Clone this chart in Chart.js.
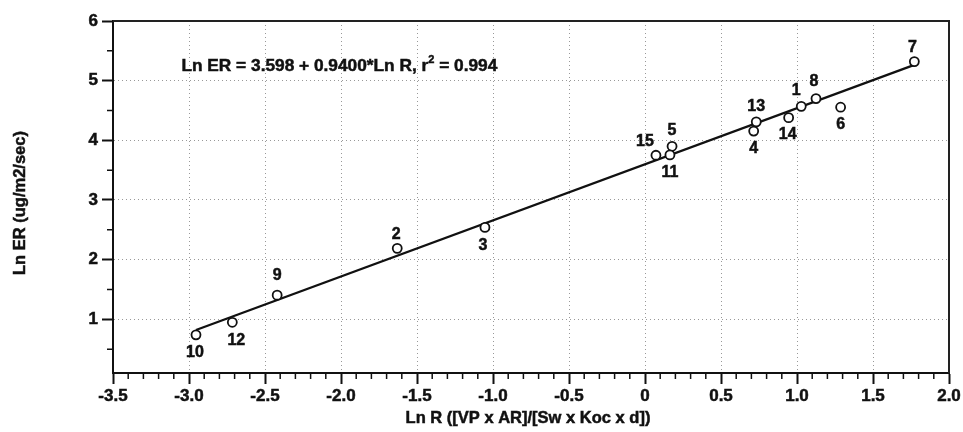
<!DOCTYPE html>
<html>
<head>
<meta charset="utf-8">
<script src="https://cdn.jsdelivr.net/npm/chart.js@4.4.1/dist/chart.umd.min.js"></script>
<style>
  html, body { margin: 0; padding: 0; background: #fff; }
  #wrap { width: 963px; height: 432px; }
</style>
</head>
<body>
<div id="wrap"><canvas id="erChart"></canvas></div>
<script>
// Ln ER vs Ln R, compounds numbered 1..15
const POINT_IDS = [1, 2, 3, 4, 5, 6, 7, 8, 9, 10, 11, 12, 13, 14, 15];
const LN_R  = [1.028, -1.63, -1.053, 0.715, 0.178, 1.287, 1.772, 1.125, -2.42, -2.954, 0.164, -2.715, 0.732, 0.945, 0.072];
const LN_ER = [4.57, 2.19, 2.54, 4.155, 3.90, 4.555, 5.32, 4.70, 1.405, 0.74, 3.755, 0.95, 4.31, 4.38, 3.75];

// fitted line as printed on the chart
const INTERCEPT = 3.598;
const SLOPE = 0.9400;
const R2 = 0.994;

const X_TICKS = [-3.5, -3.0, -2.5, -2.0, -1.5, -1.0, -0.5, 0, 0.5, 1.0, 1.5, 2.0];
const Y_TICKS = [1, 2, 3, 4, 5, 6];
const X_TITLE = 'Ln R ([VP x AR]/[Sw x Koc x d])';
const Y_TITLE = 'Ln ER (ug/m2/sec)';

const FONT = '"Liberation Sans", Arial, Helvetica, sans-serif';

const pts = LN_R.map((x, i) => ({ x: x, y: LN_ER[i] }));
const xLo = Math.min(...LN_R), xHi = Math.max(...LN_R);
const fitLine = [xLo, xHi].map(x => ({ x: x, y: INTERCEPT + SLOPE * x }));

// where each number sits relative to its circle (px)
const labelOffset = {
    1: [-5, -16], 2: [-1, -14], 3: [-2, 18], 4: [0, 18], 5: [0, -16],
    6: [0, 17], 7: [-2, -14], 8: [-2, -17], 9: [0, -20], 10: [-1, 18],
    11: [0, 18], 12: [4, 18], 13: [0, -15], 14: [-1, 17], 15: [-11, -14]
};

// fill + thin stroke, the printed labels are quite heavy
function heavyText(ctx, txt, x, y) {
    ctx.fillText(txt, x, y);
    ctx.strokeText(txt, x, y);
}

const decorPlugin = {
    id: 'decor',
    afterDraw(chart) {
        const ctx = chart.ctx;
        const xs = chart.scales.x, ys = chart.scales.y;
        const area = chart.chartArea;
        ctx.save();

        // top / right frame
        ctx.strokeStyle = '#222';
        ctx.lineWidth = 2;
        ctx.beginPath();
        ctx.moveTo(area.left, area.top);
        ctx.lineTo(area.right, area.top);
        ctx.lineTo(area.right, area.bottom);
        ctx.stroke();

        // minor ticks
        ctx.lineWidth = 1.5;
        ctx.strokeStyle = '#111';
        ctx.beginPath();
        for (let k = -35; k <= 20; k++) {
            if (k % 5 === 0) continue;
            const px = xs.getPixelForValue(k / 10);
            ctx.moveTo(px, area.bottom);
            ctx.lineTo(px, area.bottom + 6);
        }
        for (let v = 0.5; v < 6; v += 1) {
            const py = ys.getPixelForValue(v);
            ctx.moveTo(area.left, py);
            ctx.lineTo(area.left - 6, py);
        }
        ctx.stroke();

        ctx.fillStyle = '#111';
        ctx.strokeStyle = '#111';
        ctx.lineWidth = 0.5;
        ctx.textAlign = 'center';
        ctx.textBaseline = 'middle';

        // axis titles
        ctx.font = 'bold 16.5px ' + FONT;
        heavyText(ctx, X_TITLE, (area.left + area.right) / 2 - 3, 418);
        ctx.save();
        ctx.translate(20, (area.top + area.bottom) / 2 + 6);
        ctx.rotate(-Math.PI / 2);
        heavyText(ctx, Y_TITLE, 0, 0);
        ctx.restore();

        // point numbers
        ctx.font = 'bold 16px ' + FONT;
        POINT_IDS.forEach((id, i) => {
            const off = labelOffset[id];
            const px = xs.getPixelForValue(LN_R[i]) + off[0];
            const py = ys.getPixelForValue(LN_ER[i]) + off[1];
            heavyText(ctx, String(id), px, py);
        });

        // equation
        let ex = xs.getPixelForValue(-3.05);
        const ey = ys.getPixelForValue(5.25);
        ctx.textAlign = 'left';
        const part1 = 'Ln ER = ' + INTERCEPT.toFixed(3) + ' + ' + SLOPE.toFixed(4) + '*Ln R, r';
        const part2 = ' = ' + R2.toFixed(3);
        ctx.font = 'bold 17.3px ' + FONT;
        heavyText(ctx, part1, ex, ey);
        ex += ctx.measureText(part1).width;
        ctx.font = 'bold 11px ' + FONT;
        heavyText(ctx, '2', ex, ey - 6);
        ex += ctx.measureText('2').width;
        ctx.font = 'bold 17.3px ' + FONT;
        heavyText(ctx, part2, ex, ey);

        ctx.restore();
    }
};

new Chart(document.getElementById('erChart'), {
    type: 'scatter',
    data: {
        datasets: [
            {
                label: 'fit',
                type: 'line',
                data: fitLine,
                borderColor: '#111',
                borderWidth: 2.3,
                pointRadius: 0,
                fill: false,
                order: 2
            },
            {
                label: 'compounds',
                data: pts,
                pointRadius: 4.5,
                pointBorderWidth: 1.8,
                pointBorderColor: '#111',
                pointBackgroundColor: '#fff',
                order: 1
            }
        ]
    },
    options: {
        responsive: true,
        maintainAspectRatio: false,
        animation: false,
        events: [],
        layout: { padding: { top: 21, right: 14, left: 0, bottom: 0 } },
        plugins: { legend: { display: false }, tooltip: { enabled: false } },
        scales: {
            x: {
                type: 'linear',
                min: -3.5, max: 2.0,
                afterBuildTicks: s => { s.ticks = X_TICKS.map(v => ({ value: v })); },
                afterFit: s => { s.height = 59; },
                grid: {
                    color: '#999', lineWidth: 1, tickColor: '#111', tickWidth: 2, tickLength: 11
                },
                border: { display: true, color: '#111', width: 2, dash: [1, 3] },
                ticks: {
                    color: '#111', padding: 2, maxRotation: 0,
                    textStrokeColor: '#111', textStrokeWidth: 0.5,
                    font: { family: FONT, size: 17, weight: 'bold' },
                    callback: v => (v === 0 ? '0' : v.toFixed(1))
                },
                title: { display: false }
            },
            y: {
                type: 'linear',
                min: 0.1, max: 6,
                afterBuildTicks: s => { s.ticks = Y_TICKS.map(v => ({ value: v })); },
                afterFit: s => { s.width = 113; },
                grid: {
                    color: '#999', lineWidth: 1, tickColor: '#111', tickWidth: 2, tickLength: 11
                },
                border: { display: true, color: '#111', width: 2, dash: [1, 3] },
                ticks: {
                    color: '#111', padding: 4,
                    textStrokeColor: '#111', textStrokeWidth: 0.5,
                    font: { family: FONT, size: 17, weight: 'bold' },
                    callback: v => String(v)
                },
                title: { display: false }
            }
        }
    },
    plugins: [decorPlugin]
});
</script>
</body>
</html>
